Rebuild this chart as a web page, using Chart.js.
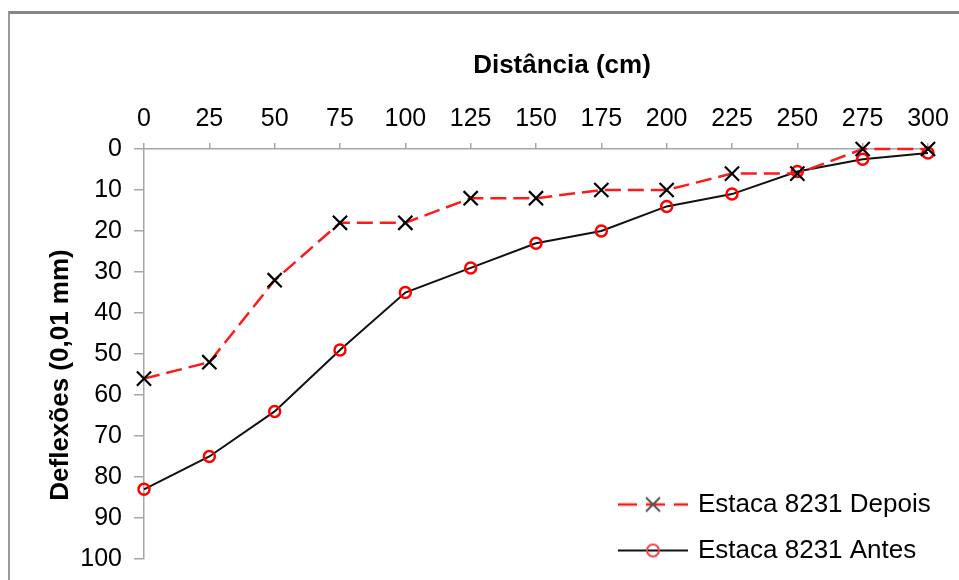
<!DOCTYPE html>
<html>
<head>
<meta charset="utf-8">
<script src="https://cdn.jsdelivr.net/npm/chart.js@4.4.1/dist/chart.umd.min.js"></script>
<style>
  body { margin: 0; background: #fff; }
  #wrap { position: relative; width: 959px; height: 580px; overflow: hidden; }
  /* moldura cinza (só topo e esquerda aparecem) */
  #moldura {
    position: absolute; left: 8px; top: 11px; width: 2000px; height: 2000px;
    border-top: 3px solid #868686; border-left: 2px solid #9a9a9a;
  }
  canvas { position: absolute; left: 0; top: 0; }
</style>
</head>
<body>
<div id="wrap">
  <div id="moldura"></div>
  <canvas id="grafico" width="959" height="580"></canvas>
</div>
<script>
// Distância ao longo da estaca (cm)
const distancias = [0, 25, 50, 75, 100, 125, 150, 175, 200, 225, 250, 275, 300];
// Deflexões (0,01 mm)
const deflexoesDepois = [56, 52, 32, 18, 18, 12, 12, 10, 10, 6, 6, 0, 0];
const deflexoesAntes = [83, 75, 64, 49, 35, 29, 23, 20, 14, 11, 5.5, 2.5, 1];
const nomesSeries = ['Estaca 8231 Depois', 'Estaca 8231 Antes'];
const ticksX = [0, 25, 50, 75, 100, 125, 150, 175, 200, 225, 250, 275, 300];
const ticksY = [0, 10, 20, 30, 40, 50, 60, 70, 80, 90, 100];
const tituloX = 'Distância (cm)';
const tituloY = 'Deflexões (0,01 mm)';

const fonte = "'Liberation Sans', Arial, sans-serif";
const cinza = '#a6a6a6';

// símbolo da legenda: linha com o marcador no meio
function simbolo(tipo) {
    const c = document.createElement('canvas');
    c.width = 70;
    c.height = 20;
    const g = c.getContext('2d');
    if (tipo === 'depois') {
        g.strokeStyle = '#ff1a1a';
        g.lineWidth = 2.5;
        g.setLineDash([19, 9]);
        g.beginPath(); g.moveTo(0, 10); g.lineTo(70, 10); g.stroke();
        g.setLineDash([]);
        g.strokeStyle = '#555';
        g.lineWidth = 2;
        g.beginPath();
        g.moveTo(28, 3); g.lineTo(42, 17);
        g.moveTo(42, 3); g.lineTo(28, 17);
        g.stroke();
    } else {
        g.strokeStyle = '#111';
        g.lineWidth = 2.2;
        g.beginPath(); g.moveTo(0, 10); g.lineTo(70, 10); g.stroke();
        g.strokeStyle = '#f04040';
        g.lineWidth = 2;
        g.beginPath(); g.arc(35, 10, 6, 0, Math.PI * 2); g.stroke();
    }
    return c;
}
const simbolos = [simbolo('depois'), simbolo('antes')];

// coloca a legenda no canto inferior direito da área do gráfico
const posicionaLegenda = {
    id: 'posicionaLegenda',
    afterLayout(chart) {
        const lg = chart.legend;
        const pad = lg.options.labels.padding;
        lg.left = 621 - pad;
        lg.right = 959;
        lg.top = 491.5 - pad;
        lg.bottom = lg.top + 200;
    }
};

// títulos dos eixos, um pouco deslocados como no original do Excel
const titulosEixos = {
    id: 'titulosEixos',
    afterDraw(chart) {
        const c = chart.ctx;
        c.save();
        c.fillStyle = '#000';
        c.font = 'bold 26px ' + fonte;
        c.textAlign = 'center';
        c.textBaseline = 'middle';
        c.fillText(tituloX, 562, 66);
        c.translate(61, 375);
        c.rotate(-Math.PI / 2);
        c.fillText(tituloY, 0, 0);
        c.restore();
    }
};

const ctx = document.getElementById('grafico');
new Chart(ctx, {
    type: 'line',
    data: {
        labels: distancias,
        datasets: [{
            label: nomesSeries[0],
            data: distancias.map((x, i) => ({ x: x, y: deflexoesDepois[i] })),
            borderColor: '#ff1a1a',
            borderWidth: 2.5,
            borderDash: [16, 7],
            pointStyle: 'crossRot',
            pointRadius: 10,
            pointBorderColor: '#000',
            pointBorderWidth: 2.2,
            pointBackgroundColor: '#000',
            tension: 0,
            clip: false
        }, {
            label: nomesSeries[1],
            data: distancias.map((x, i) => ({ x: x, y: deflexoesAntes[i] })),
            borderColor: '#111',
            borderWidth: 2,
            pointStyle: 'circle',
            pointRadius: 5.5,
            pointBorderColor: '#ff0000',
            pointBorderWidth: 2.5,
            pointBackgroundColor: 'rgba(0,0,0,0)',
            tension: 0,
            clip: false
        }]
    },
    options: {
        responsive: false,
        animation: false,
        layout: { padding: { left: 0, top: 0, right: 31, bottom: 21 } },
        scales: {
            x: {
                type: 'linear',
                position: 'top',
                min: 0,
                max: 300,
                afterBuildTicks: s => { s.ticks = ticksX.map(v => ({ value: v })); },
                afterFit: s => { s.height = 149; s.paddingLeft = 0; s.paddingRight = 0; },
                ticks: { color: '#000', padding: 9, font: { family: fonte, size: 25 }, maxRotation: 0 },
                grid: { drawOnChartArea: false, color: cinza, lineWidth: 1.5, tickLength: 6 },
                border: { color: cinza, width: 1.5 }
            },
            y: {
                type: 'linear',
                reverse: true,
                min: 0,
                max: 100,
                afterBuildTicks: s => { s.ticks = ticksY.map(v => ({ value: v })); },
                afterFit: s => { s.width = 144; s.paddingTop = 0; s.paddingBottom = 0; },
                ticks: { color: '#000', padding: 12, font: { family: fonte, size: 25 } },
                grid: { drawOnChartArea: false, color: cinza, lineWidth: 1.5, tickLength: 10 },
                border: { color: cinza, width: 1.5 }
            }
        },
        plugins: {
            tooltip: { enabled: false },
            legend: {
                position: 'chartArea',
                align: 'start',
                labels: {
                    usePointStyle: true,
                    pointStyleWidth: 64,
                    boxHeight: 20,
                    padding: 20,
                    color: '#000',
                    font: { family: fonte, size: 26 },
                    generateLabels: chart => chart.data.datasets.map((ds, i) => ({
                        text: ds.label,
                        pointStyle: simbolos[i],
                        datasetIndex: i,
                        hidden: false,
                        lineWidth: 0,
                        fillStyle: 'rgba(0,0,0,0)',
                        strokeStyle: 'rgba(0,0,0,0)'
                    }))
                }
            }
        }
    },
    plugins: [posicionaLegenda, titulosEixos]
});
</script>
</body>
</html>
